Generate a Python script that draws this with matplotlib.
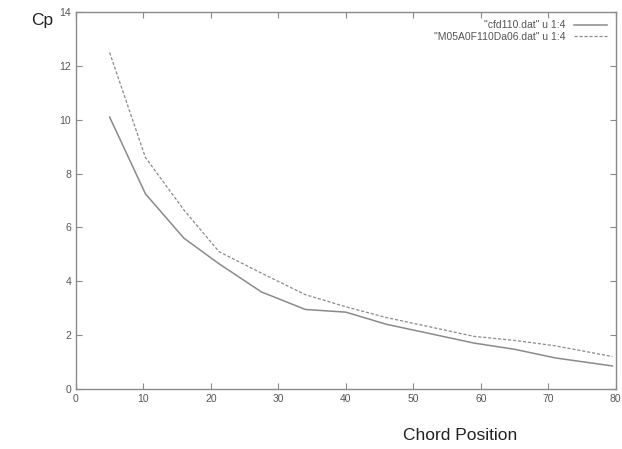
import matplotlib
matplotlib.use("Agg")
import matplotlib.pyplot as plt

plt.rcParams.update({
    "font.family": ["Liberation Sans", "DejaVu Sans"],
    "xtick.direction": "in",
    "ytick.direction": "in",
})

# chord positions
chord = [5, 10.3, 16, 21.2, 27.5, 34, 40, 46, 52.5, 59, 65, 71, 79.5]
cp_cfd = [10.1, 7.25, 5.6, 4.65, 3.6, 2.95, 2.85, 2.4, 2.05, 1.7, 1.47, 1.15, 0.85]
cp_m05 = [12.5, 8.6, 6.65, 5.1, 4.3, 3.5, 3.05, 2.65, 2.3, 1.95, 1.8, 1.6, 1.2]
labels = ['"cfd110.dat" u 1:4', '"M05A0F110Da06.dat" u 1:4']

gray = "#8a8a8a"
fig = plt.figure(figsize=(6.22, 4.49), dpi=100)
ax = fig.add_axes([0.122, 0.134, 0.868, 0.839])

ax.plot(chord, cp_cfd, color=gray, linewidth=1.1, label=labels[0])
ax.plot(chord, cp_m05, color=gray, linewidth=0.9, linestyle=(0, (2.5, 1.5)), label=labels[1])

ax.set_xlim(0, 80)
ax.set_ylim(0, 14)
ax.set_xticks(range(0, 81, 10))
ax.set_yticks(range(0, 15, 2))
for s in ax.spines.values():
    s.set_color(gray)
    s.set_linewidth(1.0)
ax.tick_params(axis="both", which="both", colors=gray, labelcolor="#555555",
               labelsize=7.5, length=4, top=True, right=True)

leg = ax.legend(loc="upper right", frameon=False, markerfirst=False, fontsize=7.5,
                handlelength=3.2, handletextpad=0.8, labelspacing=0.15,
                borderaxespad=0.4)
for t in leg.get_texts():
    t.set_color("#555555")

fig.text(0.05, 0.955, "Cp", fontsize=12.5, ha="left", va="center", color="#222222")
fig.text(0.74, 0.03, "Chord Position", fontsize=12.5, ha="center", va="center", color="#222222")

fig.savefig("out.png", dpi=100)
